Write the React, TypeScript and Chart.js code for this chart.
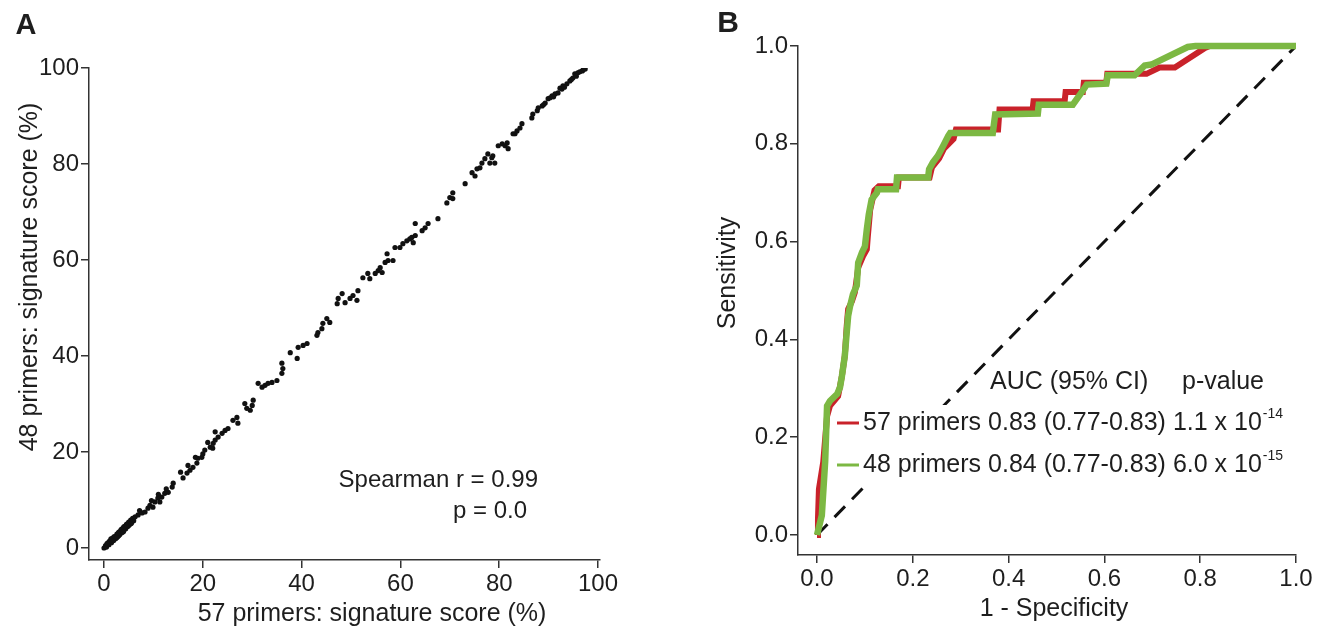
import React, { useEffect, useRef } from "react";
import { Chart, registerables } from "chart.js";

Chart.register(...registerables);

const FONT = "'Liberation Sans', Arial, Helvetica, sans-serif";

// ---------- Panel A data ----------
const scoreTicks = [0, 20, 40, 60, 80, 100];

const primers57Score = [
  0, 0.3, 0.5, 0.8, 1.0, 1.2, 1.5, 1.7, 2.0, 2.2, 2.4, 2.6, 2.8, 3.0, 3.2, 3.4, 3.6, 3.8, 4.0, 4.2, 4.4, 4.6, 4.8, 5.0, 5.2, 5.4, 5.6, 5.8, 6.0, 6.3,
  1.0, 2.0, 3.0, 4.0, 5.0, 0.6, 1.4, 2.6, 3.5, 4.5, 1.8, 2.9, 3.9, 4.9, 5.5,
  6.9, 7.7, 8.3, 8.9, 9.3, 9.9, 10.3, 10.9, 11.3, 11.7, 12.3, 13.0, 13.8, 14.0, 7.2, 9.6, 11.0, 12.6,
  16.0, 16.8, 17.4, 18.0, 18.8, 19.0, 19.8, 20.4, 21.5, 22.1, 22.5, 23.1, 23.9, 15.5, 17.0, 18.5, 20.0, 21.0, 22.0,
  22.5, 24.5, 25.1, 26.1, 26.9, 27.1, 28.5, 28.9, 29.6, 30.0, 30.2, 31.2, 32.0, 32.6, 33.2, 34.0, 35.0, 36.0, 36.2, 36.0,
  37.7, 39.1, 39.3, 41.1, 43.1, 43.3,
  40.3, 44.1, 44.3, 45.1, 45.7, 47.2, 47.4, 48.2, 48.8, 49.8, 50.4, 51.2, 51.4, 52.4, 53.4, 53.8, 54.9, 55.5, 55.9, 56.3,
  56.9, 57.5, 58.5, 57.3, 58.9, 59.9, 60.5, 61.3, 61.9, 63.0,
  62.3, 62.6, 63.0, 64.4, 65.0, 65.6, 67.6, 69.4, 70.0, 70.6, 70.6, 73.1, 74.5, 75.1, 75.5, 76.1, 76.5, 77.1, 77.7, 78.1,
  78.5, 79.1, 79.8, 80.6, 81.8, 81.6, 83.2,
  78.7, 81.2, 82.8, 83.6, 84.2, 84.6, 86.6, 86.8, 87.7, 87.9, 88.7, 89.3, 89.9, 90.3, 90.7, 91.3, 91.9, 92.3, 92.7, 92.9,
  93.7, 94.3, 94.9, 95.3, 95.9, 96.8, 97.4, 93.2, 94.6, 95.6, 96.3, 97.0, 89.0, 91.0,
];

const primers48Score = [
  0, 0.5, 0.2, 1.0, 0.7, 1.5, 1.1, 2.0, 1.6, 2.4, 2.0, 2.9, 2.4, 3.3, 2.8, 3.7, 3.2, 4.1, 3.6, 4.5, 4.0, 5.0, 4.5, 5.4, 4.9, 5.8, 5.3, 6.2, 5.7, 6.5,
  1.3, 2.3, 2.6, 4.4, 4.7, 0.9, 1.9, 2.2, 3.9, 4.8, 1.5, 3.1, 3.4, 5.1, 5.1,
  6.9, 7.3, 7.5, 8.3, 8.9, 8.5, 9.6, 10.4, 9.6, 10.6, 11.4, 11.6, 12.7, 13.5, 7.8, 9.9, 11.2, 12.3,
  14.6, 15.6, 16.2, 16.8, 17.7, 18.7, 18.9, 20.4, 21.0, 21.8, 22.5, 23.1, 23.9, 15.8, 17.2, 18.9, 19.6, 22.0, 20.8,
  24.2, 24.5, 24.9, 26.6, 27.2, 26.0, 30.1, 29.1, 28.7, 29.7, 30.8, 34.3, 33.5, 33.9, 34.3, 34.5, 34.9, 36.4, 37.4, 38.5,
  40.7, 39.5, 41.8, 42.6, 44.3, 44.9,
  42.2, 45.7, 46.8, 47.8, 47.0, 50.9, 52.0, 53.0, 51.1, 52.0, 52.6, 51.6, 53.6, 56.3, 57.2, 56.1, 57.2, 57.8, 58.4, 57.4,
  59.5, 59.9, 59.9, 61.3, 62.6, 62.6, 63.4, 64.0, 64.4, 65.1,
  64.7, 63.6, 67.6, 66.1, 66.7, 67.6, 68.6, 71.9, 73.0, 74.0, 72.8, 75.9, 78.2, 77.5, 79.0, 79.2, 80.2, 81.1, 82.1, 80.2,
  81.3, 80.2, 83.8, 84.2, 83.2, 84.4, 86.3,
  81.7, 83.8, 86.3, 86.9, 87.5, 88.4, 89.6, 90.4, 91.1, 91.7, 92.1, 92.7, 93.6, 93.8, 94.2, 94.6, 94.8, 95.8, 95.6, 96.3,
  96.7, 97.3, 97.9, 98.8, 99.0, 99.4, 99.8, 96.0, 97.6, 98.3, 99.2, 99.6, 92.4, 94.0,
];

// ---------- Panel B data ----------
const rocTicks = [0, 0.2, 0.4, 0.6, 0.8, 1.0];

const roc57FPR = [
  0, 0.002, 0.004, 0.013, 0.021, 0.027, 0.044, 0.048, 0.052, 0.058, 0.062, 0.065, 0.073, 0.079, 0.086, 0.096, 0.104, 0.106,
  0.111, 0.12, 0.129, 0.169, 0.171, 0.235, 0.24, 0.255, 0.265, 0.285, 0.29, 0.378, 0.381, 0.45, 0.452, 0.517, 0.519, 0.555,
  0.557, 0.604, 0.606, 0.688, 0.715, 0.747, 0.81, 0.82, 1.0,
];
const roc57TPR = [
  0, 0.033, 0.094, 0.149, 0.243, 0.264, 0.284, 0.304, 0.325, 0.366, 0.427, 0.462, 0.478, 0.496, 0.547, 0.57, 0.584, 0.61,
  0.665, 0.705, 0.713, 0.713, 0.731, 0.731, 0.752, 0.77, 0.79, 0.81, 0.829, 0.829, 0.87, 0.87, 0.887, 0.887, 0.906, 0.906,
  0.925, 0.925, 0.943, 0.943, 0.956, 0.956, 0.996, 1.0, 1.0,
];

const roc48FPR = [
  0, 0.01, 0.017, 0.021, 0.027, 0.042, 0.048, 0.052, 0.058, 0.062, 0.065, 0.069, 0.075, 0.083, 0.086, 0.094, 0.1, 0.104,
  0.108, 0.114, 0.125, 0.127, 0.165, 0.167, 0.232, 0.234, 0.242, 0.252, 0.263, 0.274, 0.278, 0.367, 0.372, 0.461, 0.463,
  0.534, 0.553, 0.563, 0.604, 0.607, 0.663, 0.684, 0.698, 0.774, 0.79, 1.0,
];
const roc48TPR = [
  0, 0.04, 0.15, 0.264, 0.274, 0.288, 0.302, 0.325, 0.366, 0.414, 0.448, 0.468, 0.492, 0.51, 0.557, 0.578, 0.59, 0.625,
  0.655, 0.686, 0.7, 0.707, 0.707, 0.731, 0.731, 0.748, 0.762, 0.775, 0.795, 0.816, 0.822, 0.822, 0.86, 0.862, 0.88,
  0.88, 0.906, 0.921, 0.923, 0.94, 0.94, 0.96, 0.962, 0.998, 1.0, 1.0,
];

const chanceFPR = [0, 1];
const chanceTPR = [0, 1];

const RED = "#c9222a";
const GREEN = "#7cb843";

const legendLabels = ["57 primers 0.83 (0.77-0.83) 1.1 x 10", "48 primers 0.84 (0.77-0.83) 6.0 x 10"];
const legendExponents = ["-14", "-15"];
const legendColors = [RED, GREEN];

type TextItem = {
  text: string;
  x: number;
  y: number;
  size: number;
  bold?: boolean;
  align?: CanvasTextAlign;
  rotate?: number;
};

function drawTexts(ctx: CanvasRenderingContext2D, items: TextItem[]) {
  for (const it of items) {
    ctx.save();
    ctx.fillStyle = "#1e1e1e";
    ctx.font = `${it.bold ? "bold " : ""}${it.size}px ${FONT}`;
    ctx.textAlign = it.align || "center";
    ctx.textBaseline = "middle";
    ctx.translate(it.x, it.y);
    if (it.rotate) ctx.rotate(it.rotate);
    ctx.fillText(it.text, 0, 0);
    ctx.restore();
  }
}

function axis(min: number, max: number, ticks: number[], fmt: (v: number) => string, size: number, horizontal: boolean) {
  return {
    type: "linear" as const,
    min,
    max,
    afterBuildTicks: (s: any) => {
      s.ticks = ticks.map((v) => ({ value: v }));
    },
    afterFit: (s: any) => {
      if (horizontal) s.height = size;
      else s.width = size;
    },
    grid: { display: true, drawOnChartArea: false, drawTicks: true, tickLength: 8, color: "#333", lineWidth: 1.5 },
    border: { display: true, color: "#333", width: 1.5 },
    ticks: {
      color: "#1e1e1e",
      font: { family: FONT, size: 24 },
      padding: 2,
      maxRotation: 0,
      autoSkip: false,
      callback: (v: any) => fmt(Number(v)),
    },
  };
}

export default function App() {
  const refA = useRef<HTMLCanvasElement>(null);
  const refB = useRef<HTMLCanvasElement>(null);

  useEffect(() => {
    const textsA: TextItem[] = [
      { text: "A", x: 26, y: 26, size: 29, bold: true },
      { text: "57 primers: signature score (%)", x: 372, y: 614, size: 25 },
      { text: "48 primers: signature score (%)", x: 30, y: 277, size: 25, rotate: -Math.PI / 2 },
      { text: "Spearman r = 0.99", x: 538, y: 480, size: 24, align: "right" },
      { text: "p = 0.0", x: 527, y: 511, size: 24, align: "right" },
    ];
    const chartA = new Chart(refA.current!, {
      type: "scatter",
      data: {
        datasets: [
          {
            data: primers57Score.map((x, i) => ({ x, y: primers48Score[i] })),
            backgroundColor: "#111",
            borderWidth: 0,
            pointRadius: 2.6,
          },
        ],
      },
      options: {
        animation: false,
        responsive: false,
        devicePixelRatio: 1,
        layout: { padding: { left: 0, top: 68, right: 60, bottom: 0 } },
        plugins: { legend: { display: false }, tooltip: { enabled: false } },
        scales: {
          x: axis(-3.04, 100.4, scoreTicks, (v) => String(v), 75, true),
          y: axis(-2.5, 100, scoreTicks, (v) => String(v), 89, false),
        } as any,
      },
      plugins: [
        {
          id: "textsA",
          afterDraw(chart: any) {
            drawTexts(chart.ctx, textsA);
          },
        },
      ],
    });

    const textsB: TextItem[] = [
      { text: "B", x: 68, y: 24, size: 30, bold: true },
      { text: "1 - Specificity", x: 394, y: 609, size: 25 },
      { text: "Sensitivity", x: 68, y: 273, size: 25, rotate: -Math.PI / 2 },
      { text: "AUC (95% CI)", x: 330, y: 382, size: 25, align: "left" },
      { text: "p-value", x: 522, y: 382, size: 25, align: "left" },
    ];
    const chartB = new Chart(refB.current!, {
      type: "line",
      data: {
        datasets: [
          {
            data: chanceFPR.map((x, i) => ({ x, y: chanceTPR[i] })),
            borderColor: "#111",
            borderWidth: 3,
            borderDash: [15, 10],
            pointRadius: 0,
            fill: false,
            order: 3,
          },
          {
            data: roc57FPR.map((x, i) => ({ x, y: roc57TPR[i] })),
            borderColor: RED,
            borderWidth: 6,
            pointRadius: 0,
            fill: false,
            clip: 10,
            order: 2,
          },
          {
            data: roc48FPR.map((x, i) => ({ x, y: roc48TPR[i] })),
            borderColor: GREEN,
            borderWidth: 6.5,
            pointRadius: 0,
            fill: false,
            clip: 10,
            order: 1,
          },
        ] as any,
      },
      options: {
        animation: false,
        responsive: false,
        devicePixelRatio: 1,
        layout: { padding: { left: 0, top: 46, right: 30, bottom: 0 } },
        plugins: { legend: { display: false }, tooltip: { enabled: false } },
        scales: {
          x: axis(-0.0397, 1.0, rocTicks, (v) => v.toFixed(1), 80, true),
          y: axis(-0.041, 1.0, rocTicks, (v) => v.toFixed(1), 138, false),
        } as any,
      },
      plugins: [
        {
          id: "textsB",
          afterDraw(chart: any) {
            const ctx: CanvasRenderingContext2D = chart.ctx;
            ctx.save();
            ctx.fillStyle = "#fff";
            ctx.fillRect(200, 405, 435, 78);
            const rowsY = [423, 465];
            legendLabels.forEach((lab, i) => {
              const y = rowsY[i];
              ctx.strokeStyle = legendColors[i];
              ctx.lineWidth = 3;
              ctx.beginPath();
              ctx.moveTo(177, y);
              ctx.lineTo(199, y);
              ctx.stroke();
              ctx.fillStyle = "#1e1e1e";
              ctx.font = `25px ${FONT}`;
              ctx.textAlign = "left";
              ctx.textBaseline = "middle";
              ctx.fillText(lab, 203, y);
              const w = ctx.measureText(lab).width;
              ctx.font = `14px ${FONT}`;
              ctx.fillText(legendExponents[i], 203 + w + 1, y - 9);
            });
            ctx.restore();
            drawTexts(ctx, textsB);
          },
        },
      ],
    });

    return () => {
      chartA.destroy();
      chartB.destroy();
    };
  }, []);

  return (
    <div style={{ position: "absolute", left: 0, top: 0, width: 1326, height: 635, background: "#fff", overflow: "hidden" }}>
      <canvas ref={refA} width={660} height={635} style={{ position: "absolute", left: 0, top: 0 }} />
      <canvas ref={refB} width={666} height={635} style={{ position: "absolute", left: 660, top: 0 }} />
    </div>
  );
}
